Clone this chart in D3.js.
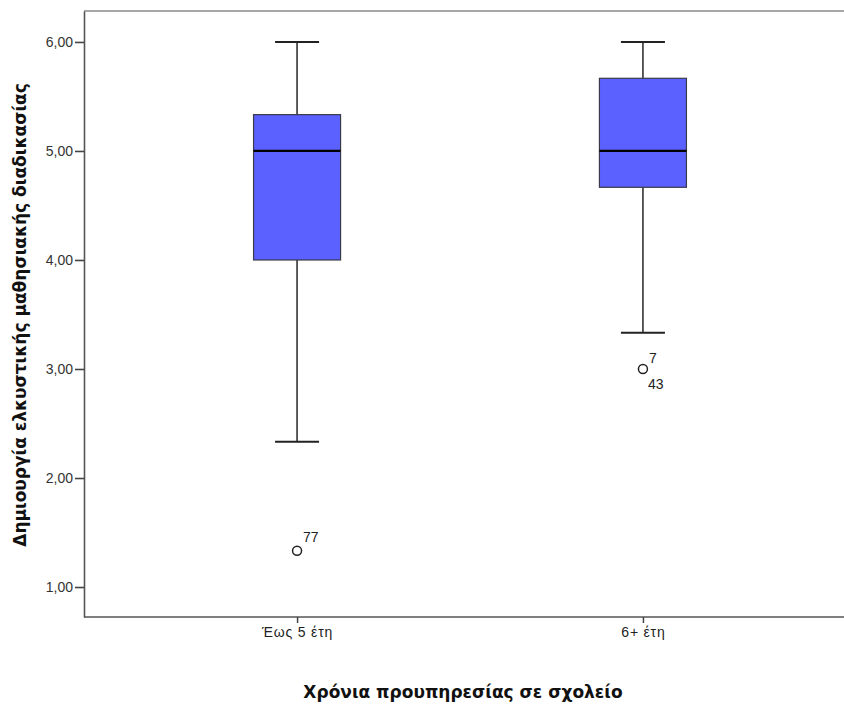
<!DOCTYPE html>
<html>
<head>
<meta charset="utf-8">
<script src="https://cdn.jsdelivr.net/npm/d3@7"></script>
<style>
  html, body { margin: 0; padding: 0; background: #fff; }
  svg { display: block; font-family: Arial, "Liberation Sans", sans-serif; }
</style>
</head>
<body>
<svg id="chart" width="844" height="704"></svg>
<script>
// Group labels and five-number summaries per group
const categories = ["Έως 5 έτη", "6+ έτη"];
const whiskerLow  = [2.3333, 3.3333];
const q1          = [4.0, 4.6667];
const median      = [5.0, 5.0];
const q3          = [5.3333, 5.6667];
const whiskerHigh = [6.0, 6.0];
// Outliers: group index, value, case labels
const outlierGroup  = [0, 1];
const outlierValue  = [1.3333, 3.0];
const outlierLabels = [["77"], ["7", "43"]];
const yTicks = [1, 2, 3, 4, 5, 6];

const yTitle = "Δημιουργία ελκυστικής μαθησιακής διαδικασίας";
const xTitle = "Χρόνια προυπηρεσίας σε σχολείο";

const svg = d3.select("#chart");
const plotLeft = 84, plotTop = 11, plotBottom = 617, plotRight = 856;

const y = d3.scaleLinear().domain([0.725, 6.284]).range([plotBottom, plotTop]);
const x = d3.scalePoint().domain(categories).range([plotLeft, plotRight]).padding(0.616);
const boxW = 87, capW = 44;

// Frame: top border
svg.append("line").attr("x1", plotLeft).attr("x2", 844).attr("y1", plotTop).attr("y2", plotTop)
  .attr("stroke", "#8a8a8a").attr("stroke-width", 1.5);

// Y axis
const yAxis = svg.append("g").attr("transform", `translate(${plotLeft},0)`)
  .call(d3.axisLeft(y).tickValues(yTicks).tickSize(9).tickSizeOuter(0)
    .tickFormat(d => d3.format(".2f")(d).replace(".", ",")));
yAxis.select(".domain").attr("stroke", "#555").attr("stroke-width", 1.6);
yAxis.selectAll(".tick line").attr("stroke", "#444").attr("stroke-width", 1.6);
yAxis.selectAll(".tick text").attr("fill", "#333").attr("font-size", 14).attr("x", -11);

// X axis
const xAxis = svg.append("g").attr("transform", `translate(0,${plotBottom})`)
  .call(d3.axisBottom(x).tickSize(6).tickSizeOuter(0));
xAxis.select(".domain").attr("stroke", "#555").attr("stroke-width", 1.6)
  .attr("d", `M${plotLeft},0H844`);
xAxis.selectAll(".tick line").attr("stroke", "#444").attr("stroke-width", 1.5);
xAxis.selectAll(".tick text").attr("fill", "#222").attr("font-size", 14)
  .attr("letter-spacing", 0.8).attr("y", 10);

// Boxes
const groups = categories.map((c, i) => ({
  c, lo: whiskerLow[i], q1: q1[i], med: median[i], q3: q3[i], hi: whiskerHigh[i]
}));
const g = svg.append("g");
groups.forEach(d => {
  const cx = x(d.c);
  // whiskers
  g.append("line").attr("x1", cx).attr("x2", cx).attr("y1", y(d.hi)).attr("y2", y(d.q3))
    .attr("stroke", "#333").attr("stroke-width", 1.6);
  g.append("line").attr("x1", cx).attr("x2", cx).attr("y1", y(d.q1)).attr("y2", y(d.lo))
    .attr("stroke", "#333").attr("stroke-width", 1.6);
  // caps
  [d.hi, d.lo].forEach(v => {
    g.append("line").attr("x1", cx - capW / 2).attr("x2", cx + capW / 2)
      .attr("y1", y(v)).attr("y2", y(v)).attr("stroke", "#222").attr("stroke-width", 2);
  });
  // box
  g.append("rect").attr("x", cx - boxW / 2).attr("width", boxW)
    .attr("y", y(d.q3)).attr("height", y(d.q1) - y(d.q3))
    .attr("fill", "#5b61ff").attr("stroke", "#3a3a4a").attr("stroke-width", 1.2);
  // median
  g.append("line").attr("x1", cx - boxW / 2).attr("x2", cx + boxW / 2)
    .attr("y1", y(d.med)).attr("y2", y(d.med)).attr("stroke", "#000").attr("stroke-width", 2.2);
});

// Outliers with case labels (first label above-right, second below-right)
outlierValue.forEach((v, i) => {
  const cx = x(categories[outlierGroup[i]]), cy = y(v);
  g.append("circle").attr("cx", cx).attr("cy", cy).attr("r", 4.5)
    .attr("fill", "none").attr("stroke", "#222").attr("stroke-width", 1.5);
  const labs = outlierLabels[i];
  g.append("text").attr("x", cx + 6).attr("y", labs.length > 1 ? cy - 6 : cy - 9)
    .attr("font-size", 14).attr("fill", "#222").text(labs[0]);
  if (labs[1]) {
    g.append("text").attr("x", cx + 5).attr("y", cy + 20)
      .attr("font-size", 14).attr("fill", "#222").text(labs[1]);
  }
});

// Axis titles
svg.append("text").attr("transform", `translate(26,315) rotate(-90)`)
  .attr("text-anchor", "middle").attr("font-size", 17).attr("font-weight", "bold")
  .attr("font-family", "'DejaVu Sans', Verdana, sans-serif")
  .attr("fill", "#111").text(yTitle);
svg.append("text").attr("x", 463).attr("y", 698)
  .attr("text-anchor", "middle").attr("font-size", 17).attr("font-weight", "bold")
  .attr("font-family", "'DejaVu Sans', Verdana, sans-serif")
  .attr("fill", "#111").text(xTitle);
</script>
</body>
</html>
